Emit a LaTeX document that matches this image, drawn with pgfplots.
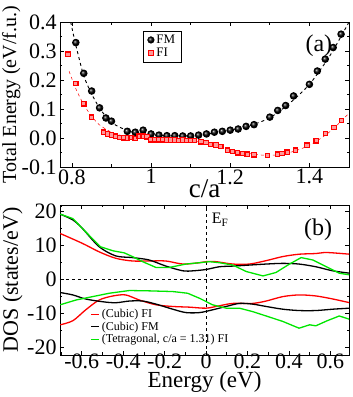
\documentclass[border=0pt]{standalone}
\usepackage{pgfplots}
\pgfplotsset{compat=1.18}
\usepackage{fontspec}
\setmainfont{Liberation Serif}
\definecolor{lgreen}{RGB}{0,230,0}
\newcommand{\fs}[1]{\fontsize{#1}{#1}\selectfont}
\begin{document}
\begin{tikzpicture}
\useasboundingbox (0pt,0pt) rectangle (353pt,397pt);
\pgfplotsset{every axis/.append style={
  scale only axis, line width=0.9pt,
  tick style={line width=0.7pt, black},
  major tick length=4pt, minor tick length=2.5pt,
  tick label style={font=\fs{22}},
  xticklabel style={inner sep=1pt, yshift=-1pt},
  yticklabel style={inner sep=1pt, xshift=-2pt},
  /pgf/number format/assume math mode=true,
}}
% ---------------- panel (a)
\begin{axis}[at={(60pt,230pt)}, anchor=south west,
  width=289pt, height=145pt,
  xmin=0.77, xmax=1.5, ymin=-0.1, ymax=0.4,
  xtick={0.8,1,1.2,1.4}, xticklabels={0.8,1,1.2,1.4},
  minor xtick={0.9,1.1,1.3,1.5},
  ytick={-0.1,0,0.1,0.2,0.3,0.4}, yticklabels={-0.1,0.0,0.1,0.2,0.3,0.4},
  minor ytick={-0.05,0.05,0.15,0.25,0.35},
  xlabel={c/a}, xlabel style={font=\fs{27}, at={(axis description cs:0.5,0)}, anchor=base, yshift=-31pt},
  ylabel={Total Energy (eV/f.u.)}, ylabel style={font=\fs{20}, at={(axis description cs:-0.152,0.5)}, anchor=base},
  legend style={at={(axis cs:0.98,0.37)}, anchor=north west, font=\fs{13}, draw=black, line width=0.5pt, inner xsep=4pt, inner ysep=2pt, row sep=-1pt, cells={anchor=west}},
  legend cell align=left,
]
\addplot[black, dashed, line width=0.9pt, smooth, forget plot] coordinates {
(0.797,0.40) (0.81,0.32) (0.83,0.215) (0.85,0.152) (0.87,0.103) (0.89,0.068) (0.91,0.045) (0.94,0.026) (0.97,0.016) (1.0,0.011) (1.05,0.007) (1.1,0.008) (1.15,0.015) (1.2,0.027) (1.25,0.043) (1.3,0.07) (1.35,0.12) (1.4,0.185) (1.45,0.28) (1.49,0.375) (1.50,0.40)};
\addplot[red, dashed, line width=0.5pt, smooth, forget plot] coordinates {
(0.793,0.23) (0.81,0.17) (0.83,0.115) (0.85,0.075) (0.87,0.045) (0.90,0.02) (0.93,0.007) (0.97,0.001) (1.0,-0.003) (1.05,-0.006) (1.1,-0.01) (1.15,-0.02) (1.2,-0.039) (1.25,-0.054) (1.3,-0.06) (1.35,-0.05) (1.4,-0.025) (1.45,0.02) (1.5,0.085)};
\addplot[black, only marks, mark=ball, mark size=3.3pt, mark options={ball color=black}] coordinates {
(0.81,0.329) (0.83,0.223) (0.85,0.162) (0.87,0.104) (0.886,0.069) (0.90,0.058) (0.94,0.023) (0.96,0.020) (0.98,0.027) (1.00,0.014) (1.02,0.010) (1.04,0.008) (1.06,0.008) (1.08,0.007) (1.10,0.007) (1.12,0.010) (1.14,0.014) (1.16,0.020) (1.18,0.023) (1.20,0.027) (1.22,0.031) (1.24,0.040) (1.26,0.046) (1.30,0.072) (1.32,0.095) (1.34,0.112) (1.36,0.145) (1.40,0.185) (1.42,0.231) (1.44,0.272) (1.46,0.312) (1.48,0.358)};
\addlegendentry{FM}
\addplot[red, only marks, mark=square*, mark size=2.2pt, mark options={solid, fill=red!40, draw=red, line width=1.2pt}] coordinates {
(0.79,0.289) (0.81,0.188) (0.83,0.118) (0.85,0.072) (0.88,0.020) (0.89,0.014) (0.90,0.010) (0.91,0.006) (0.92,0.002) (0.93,0.001) (0.94,0.000) (0.95,0.002) (0.96,-0.002) (0.97,0.006) (0.98,0.006) (0.99,0.004) (1.00,-0.006) (1.01,-0.006) (1.02,-0.006) (1.03,-0.006) (1.04,-0.007) (1.05,-0.007) (1.06,-0.007) (1.07,-0.008) (1.08,-0.007) (1.09,-0.008) (1.10,-0.008) (1.11,-0.009) (1.126,-0.013) (1.139,-0.016) (1.151,-0.022) (1.164,-0.024) (1.176,-0.030) (1.193,-0.042) (1.206,-0.047) (1.218,-0.051) (1.231,-0.054) (1.243,-0.056) (1.260,-0.058) (1.294,-0.060) (1.319,-0.056) (1.331,-0.053) (1.344,-0.049) (1.365,-0.042) (1.394,-0.025) (1.417,-0.010) (1.441,0.015) (1.462,0.036) (1.481,0.061)};
\addlegendentry{FI}
\node[font=\fs{24}] at (axis cs:1.424,0.317) {(a)};
\end{axis}
% ---------------- panel (b)
\begin{axis}[at={(60pt,42pt)}, anchor=south west,
  width=289pt, height=150pt,
  xmin=-0.705, xmax=0.69, ymin=-22.4, ymax=21.8,
  xtick={-0.6,-0.4,-0.2,0,0.2,0.4,0.6}, xticklabels={-0.6,-0.4,-0.2,0,0.2,0.4,0.6},
  minor xtick={-0.7,-0.5,-0.3,-0.1,0.1,0.3,0.5},
  xticklabel style={yshift=4pt},
  ytick={-20,-10,0,10,20}, yticklabels={-20,-10,0,10,20},
  minor ytick={-15,-5,5,15},
  xlabel={Energy (eV)}, xlabel style={font=\fs{23}, at={(axis description cs:0.5,0)}, anchor=base, yshift=-33pt},
  ylabel={DOS (states/eV)}, ylabel style={font=\fs{22}, at={(axis description cs:-0.146,0.5)}, anchor=base},
  legend style={at={(axis cs:-0.56,-8.3)}, anchor=north west, font=\fs{12}, draw=none, fill=none, inner sep=0pt, row sep=-1.5pt, cells={anchor=west}},
  legend cell align=left,
  legend image code/.code={\draw[#1, line width=1.3pt] (0pt,0pt) -- (8pt,0pt);},
]
\draw[black, dashed, line width=0.6pt] (axis cs:0,-22.4) -- (axis cs:0,21.8);
\draw[black, dashed, line width=0.6pt] (axis cs:-0.705,0) -- (axis cs:0.69,0);
\addplot[red, line width=1.3pt, smooth] coordinates {
(-0.704,13.4) (-0.597,10.5) (-0.516,8.0) (-0.436,6.1) (-0.355,5.3) (-0.275,5.3) (-0.194,5.3) (-0.112,4.4) (-0.031,4.8) (0,5.1) (0.048,5.1) (0.129,4.4) (0.209,4.4) (0.29,5.4) (0.37,6.6) (0.449,7.3) (0.53,7.5) (0.571,7.8) (0.612,7.7) (0.694,7.3)};
\addlegendentry{(Cubic) FI}
\addplot[black, line width=1.3pt, smooth] coordinates {
(-0.704,19.1) (-0.643,17.4) (-0.597,14.9) (-0.516,9.5) (-0.436,6.8) (-0.355,6.3) (-0.275,5.6) (-0.194,3.8) (-0.112,2.4) (-0.064,2.4) (0,2.8) (0.064,3.6) (0.129,3.8) (0.209,4.1) (0.29,4.4) (0.37,4.6) (0.449,4.4) (0.53,3.6) (0.612,2.4) (0.694,1.7)};
\addlegendentry{(Cubic) FM}
\addplot[lgreen, line width=1.3pt] coordinates {
(-0.704,19.1) (-0.643,17.8) (-0.581,13.9) (-0.51,9.5) (-0.449,8.3) (-0.395,7.7) (-0.355,6.6) (-0.306,5.1) (-0.242,3.4) (-0.177,3.4) (-0.097,4.4) (-0.031,4.8) (0.016,5.1) (0.064,4.8) (0.129,4.1) (0.194,2.2) (0.275,0.9) (0.337,1.9) (0.403,4.4) (0.459,6.3) (0.515,5.6) (0.581,3.6) (0.643,1.7) (0.694,1.2)};
\addlegendentry{(Tetragonal, c/a = 1.31) FI}
\addplot[red, line width=1.3pt, smooth, forget plot] coordinates {
(-0.704,-13.5) (-0.643,-12.3) (-0.581,-9.1) (-0.516,-6.2) (-0.449,-5.0) (-0.388,-4.7) (-0.322,-6.2) (-0.242,-7.6) (-0.161,-8.1) (-0.081,-8.3) (0,-8.6) (0.064,-7.9) (0.129,-7.2) (0.224,-7.2) (0.29,-6.5) (0.37,-5.2) (0.449,-4.7) (0.53,-5.0) (0.612,-5.9) (0.694,-7.0)};
\addplot[black, line width=1.3pt, smooth, forget plot] coordinates {
(-0.704,-4.0) (-0.643,-4.7) (-0.581,-5.9) (-0.5,-6.7) (-0.436,-7.0) (-0.37,-6.5) (-0.306,-6.5) (-0.242,-7.4) (-0.161,-8.9) (-0.097,-9.9) (-0.031,-9.9) (0.031,-9.1) (0.097,-8.1) (0.161,-7.2) (0.224,-7.4) (0.29,-8.1) (0.37,-8.9) (0.449,-9.3) (0.53,-9.3) (0.612,-8.9) (0.694,-8.6)};
\addplot[lgreen, line width=1.3pt, forget plot] coordinates {
(-0.704,-7.6) (-0.628,-6.2) (-0.548,-5.2) (-0.467,-4.2) (-0.37,-3.4) (-0.275,-3.5) (-0.161,-3.7) (-0.089,-4.2) (-0.031,-5.7) (0.031,-7.6) (0.097,-8.6) (0.161,-8.6) (0.224,-9.6) (0.29,-10.9) (0.37,-12.5) (0.449,-14.5) (0.5,-13.5) (0.53,-13.8) (0.581,-12.4) (0.643,-10.9) (0.694,-11.9)};
\node[font=\fs{16}, anchor=west] at (axis cs:0.01,17.4) {E$_{\mathrm{F}}$};
\node[font=\fs{24}] at (axis cs:0.541,14.4) {(b)};
\end{axis}
\end{tikzpicture}
\end{document}
